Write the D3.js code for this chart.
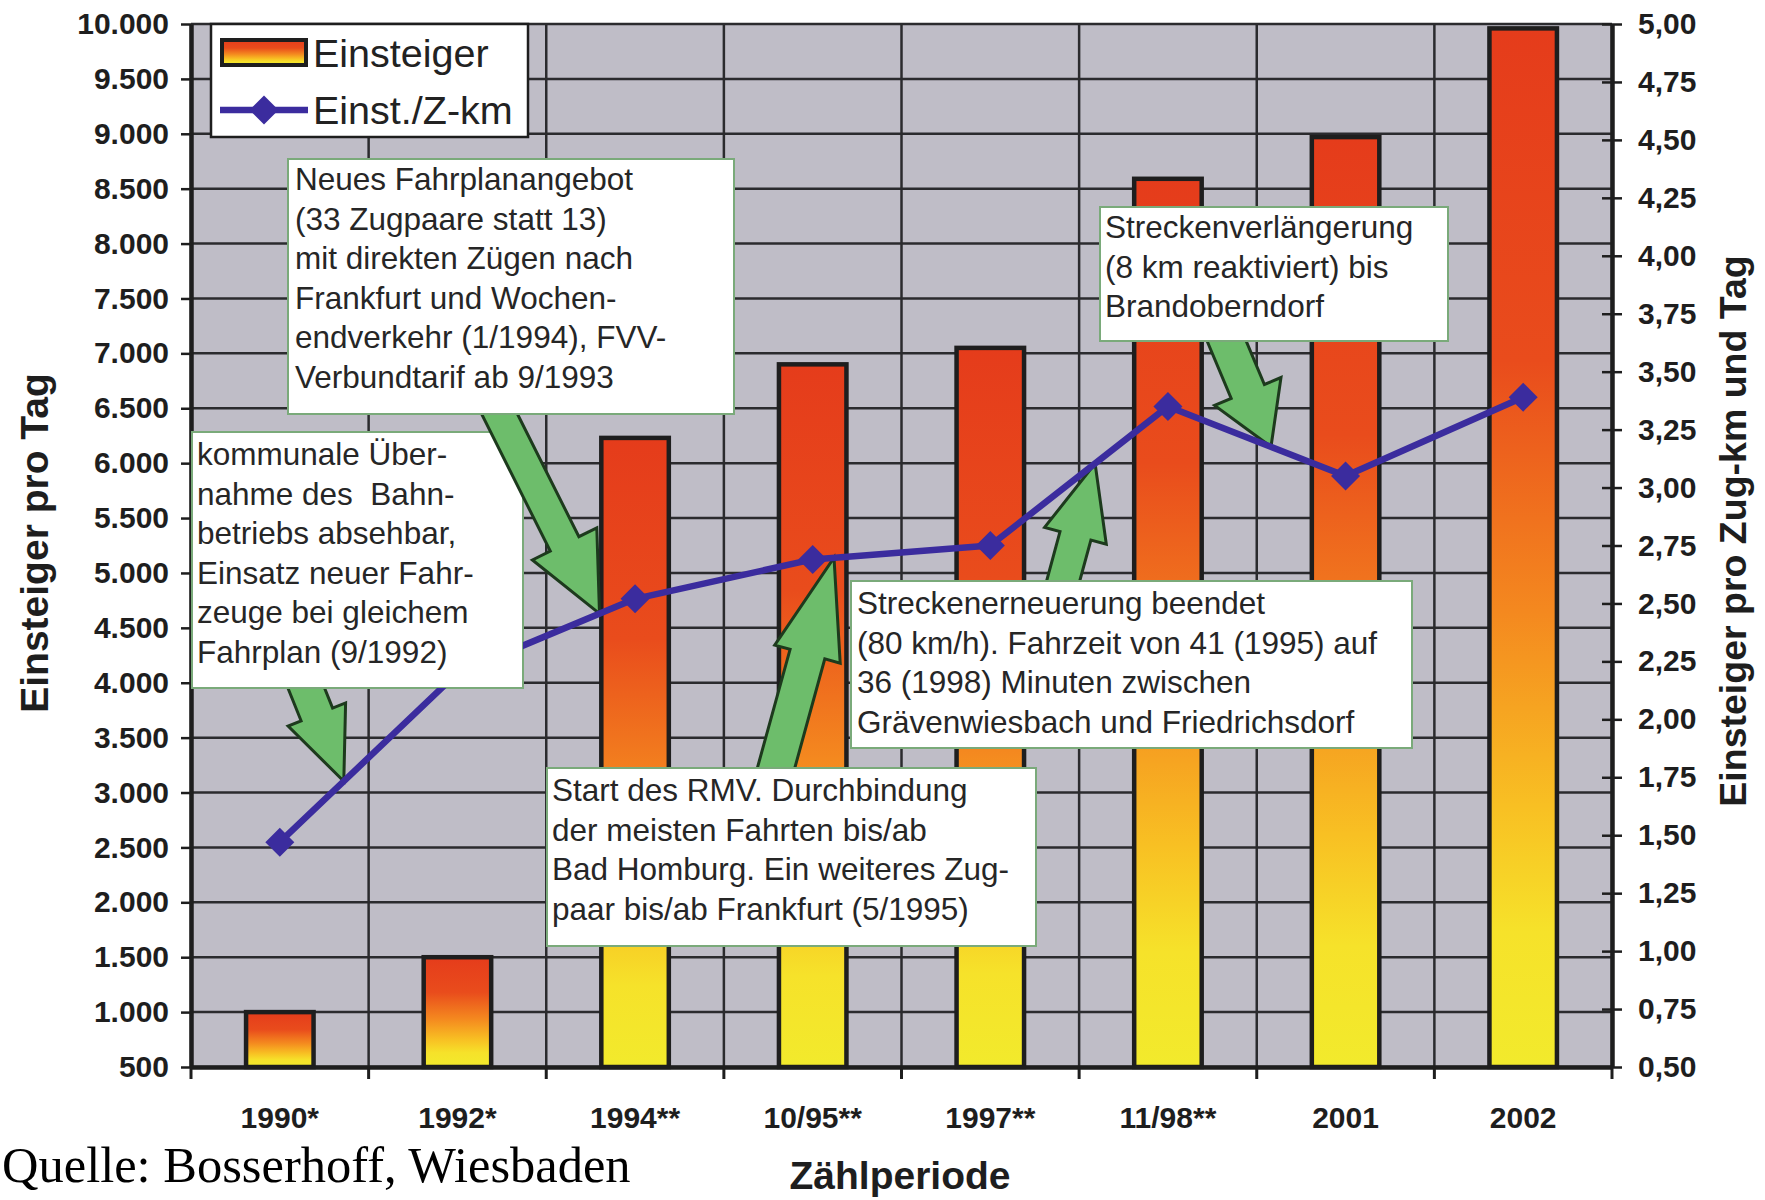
<!DOCTYPE html>
<html><head><meta charset="utf-8">
<script src="https://cdn.jsdelivr.net/npm/d3@7"></script>
<style>body{margin:0;background:#fff;} svg{display:block;}</style>
</head><body>
<svg id="c" width="1765" height="1200"></svg>
<script>
// ---------- data ----------
const categories = ["1990*", "1992*", "1994**", "10/95**", "1997**", "11/98**", "2001", "2002"];
const einsteiger = [1000, 1500, 6230, 6900, 7050, 8590, 8970, 9960];
const einstProZkm = [1.47, 2.20, 2.52, 2.69, 2.75, 3.35, 3.05, 3.39];
const leftTicks = [500, 1000, 1500, 2000, 2500, 3000, 3500, 4000, 4500, 5000, 5500, 6000, 6500, 7000, 7500, 8000, 8500, 9000, 9500, 10000];
const rightTicks = [0.5, 0.75, 1.0, 1.25, 1.5, 1.75, 2.0, 2.25, 2.5, 2.75, 3.0, 3.25, 3.5, 3.75, 4.0, 4.25, 4.5, 4.75, 5.0];
const seriesNames = ["Einsteiger", "Einst./Z-km"];
const titleLeft = "Einsteiger pro Tag";
const titleRight = "Einsteiger pro Zug-km und Tag";
const titleBottom = "Zählperiode";
const sourceNote = "Quelle: Bosserhoff, Wiesbaden";
const noteTexts = [
  ["Neues Fahrplanangebot", "(33 Zugpaare statt 13)", "mit direkten Zügen nach", "Frankfurt und Wochen-", "endverkehr (1/1994), FVV-", "Verbundtarif ab 9/1993"],
  ["kommunale Über-", "nahme des  Bahn-", "betriebs absehbar,", "Einsatz neuer Fahr-", "zeuge bei gleichem", "Fahrplan (9/1992)"],
  ["Start des RMV. Durchbindung", "der meisten Fahrten bis/ab", "Bad Homburg. Ein weiteres Zug-", "paar bis/ab Frankfurt (5/1995)"],
  ["Streckenerneuerung beendet", "(80 km/h). Fahrzeit von 41 (1995) auf", "36 (1998) Minuten zwischen", "Grävenwiesbach und Friedrichsdorf"],
  ["Streckenverlängerung", "(8 km reaktiviert) bis", "Brandoberndorf"]
];

// ---------- layout ----------
const P = {l: 191, r: 1612, t: 24, b: 1067};
const SANS = "'Liberation Sans', Arial, Helvetica, sans-serif";
const noteBoxes = [
  {x: 288, y: 159, w: 446, h: 255, tx: 295, first: 179},
  {x: 192, y: 432, w: 331, h: 256, tx: 197, first: 454},
  {x: 547, y: 768, w: 489, h: 178, tx: 552, first: 790},
  {x: 851, y: 581, w: 561, h: 167, tx: 857, first: 603},
  {x: 1100, y: 207, w: 348, h: 134, tx: 1105, first: 227}
];
const lineStep = 39.5;
// arrows: tail in px, tip anchored on the line segment (from index, to index, fraction)
const arrowDefs = [
  {tail: [303, 680], seg: [0, 1, 0.36], sw: 34, hw: 62, hl: 72, layer: "low"},
  {tail: [490, 395], seg: [1, 2, 0.80], sw: 32, hw: 72, hl: 78, layer: "mid"},
  {tail: [770, 790], seg: [3, 4, 0.12], sw: 36, hw: 68, hl: 100, layer: "low"},
  {tail: [1058, 600], seg: [4, 5, 0.59], sw: 32, hw: 64, hl: 75, layer: "low"},
  {tail: [1222, 330], seg: [5, 6, 0.58], sw: 36, hw: 72, hl: 60, layer: "low"}
];

const svg = d3.select("#c");
const x = d3.scaleBand().domain(categories).range([P.l, P.r]).padding(0);
const yL = d3.scaleLinear().domain([500, 10000]).range([P.b, P.t]);
const yR = d3.scaleLinear().domain([0.5, 5]).range([P.b, P.t]);
const de = d3.formatLocale({decimal: ",", thousands: ".", grouping: [3], currency: ["", " €"]});
const fmtL = de.format(",d"), fmtR = de.format(",.2f");
const cx = c => x(c) + x.bandwidth() / 2;

// gradient
const defs = svg.append("defs");
const grad = defs.append("linearGradient").attr("id", "barGrad")
  .attr("x1", 0).attr("y1", 0).attr("x2", 0).attr("y2", 1);
[[0, "#e53c1b"], [0.32, "#e94c1c"], [0.56, "#f4881f"], [0.75, "#f8c023"], [0.87, "#f6e22a"], [1, "#f2ea2c"]]
  .forEach(s => grad.append("stop").attr("offset", s[0]).attr("stop-color", s[1]));
// clip that hides the line beneath the "kommunale" box
const b2 = noteBoxes[1];
defs.append("clipPath").attr("id", "lineClip").append("path")
  .attr("clip-rule", "evenodd")
  .attr("d", `M0,0H1765V1200H0Z M${b2.x},${b2.y}H${b2.x + b2.w}V${b2.y + b2.h}H${b2.x}Z`);

// plot background
svg.append("rect").attr("x", P.l).attr("y", P.t).attr("width", P.r - P.l).attr("height", P.b - P.t)
  .attr("fill", "#bfbdc7");

// grid
svg.append("g").selectAll("line").data(leftTicks).join("line")
  .attr("x1", P.l).attr("x2", P.r).attr("y1", d => yL(d)).attr("y2", d => yL(d))
  .attr("stroke", "#2b2b2e").attr("stroke-width", 2.5);
const bounds = categories.map(c => x(c)).concat([P.r]);
svg.append("g").selectAll("line").data(bounds).join("line")
  .attr("x1", d => d).attr("x2", d => d).attr("y1", P.t).attr("y2", P.b)
  .attr("stroke", "#2b2b2e").attr("stroke-width", 2.5);

// bars
const bw = x.bandwidth() * 0.38;
svg.append("g").selectAll("rect").data(categories).join("rect")
  .attr("x", c => cx(c) - bw / 2).attr("width", bw)
  .attr("y", (c, i) => yL(einsteiger[i]))
  .attr("height", (c, i) => yL(500) - yL(einsteiger[i]))
  .attr("fill", "url(#barGrad)").attr("stroke", "#1e1e1e").attr("stroke-width", 4.5);

// axes
const gl = svg.append("g").attr("transform", `translate(${P.l},0)`)
  .call(d3.axisLeft(yL).tickValues(leftTicks).tickFormat(fmtL).tickSize(10).tickSizeOuter(0).tickPadding(12));
const gr = svg.append("g").attr("transform", `translate(${P.r},0)`)
  .call(d3.axisRight(yR).tickValues(rightTicks).tickFormat(fmtR).tickSize(10).tickSizeOuter(0).tickPadding(16));
gr.selectAll(".tick line").attr("x1", -10);
const gb = svg.append("g").attr("transform", `translate(0,${P.b})`)
  .call(d3.axisBottom(x).tickSize(0).tickSizeOuter(0));
gb.selectAll(".tick text").attr("y", 50).attr("dy", "0.35em");
svg.append("g").selectAll("line").data(bounds).join("line")
  .attr("x1", d => d).attr("x2", d => d).attr("y1", P.b).attr("y2", P.b + 12)
  .attr("stroke", "#1e1e1e").attr("stroke-width", 3);
[gl, gr, gb].forEach(g => {
  g.select(".domain").attr("stroke", "#1e1e1e").attr("stroke-width", 4.5);
  g.selectAll(".tick line").attr("stroke", "#1e1e1e").attr("stroke-width", 2.5);
  g.selectAll(".tick text").attr("font-family", SANS).attr("font-size", 30)
    .attr("font-weight", "bold").attr("fill", "#1e1e1e");
});

// line points
const pts = categories.map((c, i) => [cx(c), yR(einstProZkm[i])]);
const segPoint = s => {
  const a = pts[s[0]], b = pts[s[1]];
  return [a[0] + (b[0] - a[0]) * s[2], a[1] + (b[1] - a[1]) * s[2]];
};
function arrowPath(T, Pt, sw, hw, hl) {
  const dx = Pt[0] - T[0], dy = Pt[1] - T[1], L = Math.hypot(dx, dy);
  const ux = dx / L, uy = dy / L, nx = -uy, ny = ux;
  const Hx = Pt[0] - ux * hl, Hy = Pt[1] - uy * hl;
  const p = [
    [T[0] + nx * sw / 2, T[1] + ny * sw / 2],
    [Hx + nx * sw / 2, Hy + ny * sw / 2],
    [Hx + nx * hw / 2, Hy + ny * hw / 2],
    Pt,
    [Hx - nx * hw / 2, Hy - ny * hw / 2],
    [Hx - nx * sw / 2, Hy - ny * sw / 2],
    [T[0] - nx * sw / 2, T[1] - ny * sw / 2]
  ];
  return "M" + p.map(q => q[0].toFixed(1) + "," + q[1].toFixed(1)).join("L") + "Z";
}
function drawArrow(g, a) {
  g.append("path").attr("d", arrowPath(a.tail, segPoint(a.seg), a.sw, a.hw, a.hl))
    .attr("fill", "#6dbd6b").attr("stroke", "#1d3a1d").attr("stroke-width", 3)
    .attr("stroke-linejoin", "miter");
}
function drawNote(g, i) {
  const b = noteBoxes[i];
  g.append("rect").attr("x", b.x).attr("y", b.y).attr("width", b.w).attr("height", b.h)
    .attr("fill", "#ffffff").attr("stroke", "#7aaa7a").attr("stroke-width", 2);
  g.append("g").selectAll("text").data(noteTexts[i]).join("text")
    .attr("x", b.tx).attr("y", (d, k) => b.first + k * lineStep).attr("dy", "0.35em")
    .attr("font-family", SANS).attr("font-size", 31.5).attr("fill", "#262626")
    .attr("xml:space", "preserve").style("white-space", "pre").text(d => d);
}

// arrows beneath the line
const gArrLow = svg.append("g");
arrowDefs.filter(a => a.layer === "low").forEach(a => drawArrow(gArrLow, a));
// note box 2, then arrow b above it
drawNote(svg.append("g"), 1);
arrowDefs.filter(a => a.layer === "mid").forEach(a => drawArrow(svg.append("g"), a));

// line + markers (hidden under box 2)
const gLine = svg.append("g").attr("clip-path", "url(#lineClip)");
gLine.append("path").attr("d", d3.line()(pts)).attr("fill", "none")
  .attr("stroke", "#3b2c9e").attr("stroke-width", 6.5).attr("stroke-linejoin", "round");
gLine.selectAll("path.m").data(pts).join("path").attr("class", "m")
  .attr("d", d3.symbol(d3.symbolSquare, 420)())
  .attr("transform", d => `translate(${d[0]},${d[1]}) rotate(45)`)
  .attr("fill", "#3b2c9e");

// remaining notes
[0, 2, 3, 4].forEach(i => drawNote(svg.append("g"), i));

// legend
const lg = svg.append("g");
lg.append("rect").attr("x", 211).attr("y", P.t).attr("width", 317).attr("height", 113)
  .attr("fill", "#fff").attr("stroke", "#1e1e1e").attr("stroke-width", 2.5);
lg.append("rect").attr("x", 222).attr("y", 40).attr("width", 84).attr("height", 25)
  .attr("fill", "url(#barGrad)").attr("stroke", "#1e1e1e").attr("stroke-width", 4);
lg.append("line").attr("x1", 220).attr("x2", 308).attr("y1", 110).attr("y2", 110)
  .attr("stroke", "#3b2c9e").attr("stroke-width", 6.5);
lg.append("path").attr("d", d3.symbol(d3.symbolSquare, 420)())
  .attr("transform", "translate(264,110) rotate(45)").attr("fill", "#3b2c9e");
lg.selectAll("text").data(seriesNames).join("text")
  .attr("x", 313).attr("y", (d, i) => i === 0 ? 53 : 110).attr("dy", "0.35em")
  .attr("font-family", SANS).attr("font-size", 39.5).attr("fill", "#222").text(d => d);

// titles
svg.append("text").attr("transform", "translate(34,543) rotate(-90)")
  .attr("text-anchor", "middle").attr("dy", "0.35em")
  .attr("font-family", SANS).attr("font-size", 39).attr("font-weight", "bold").attr("fill", "#1e1e1e")
  .text(titleLeft);
svg.append("text").attr("transform", "translate(1733,531) rotate(-90)")
  .attr("text-anchor", "middle").attr("dy", "0.35em")
  .attr("font-family", SANS).attr("font-size", 37.5).attr("font-weight", "bold").attr("fill", "#1e1e1e")
  .text(titleRight);
svg.append("text").attr("x", 900).attr("y", 1175).attr("text-anchor", "middle").attr("dy", "0.35em")
  .attr("font-family", SANS).attr("font-size", 39).attr("font-weight", "bold").attr("fill", "#1e1e1e")
  .text(titleBottom);
svg.append("text").attr("x", 2).attr("y", 1182)
  .attr("font-family", "'Liberation Serif', 'Times New Roman', serif").attr("font-size", 50.5).attr("fill", "#000")
  .text(sourceNote);
</script>
</body></html>
